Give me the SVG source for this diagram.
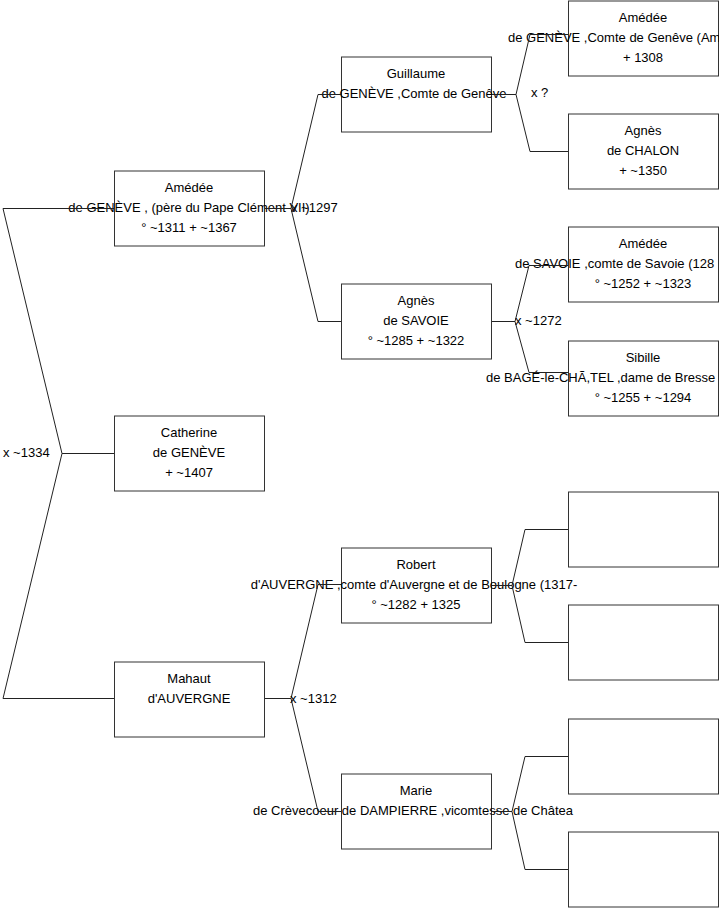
<svg xmlns="http://www.w3.org/2000/svg" width="719" height="908" viewBox="0 0 719 908">
<style>
rect.b{fill:#fff;stroke:#333;stroke-width:1}
text{font-family:"Liberation Sans",Arial,sans-serif;font-size:13px;fill:#000}
text.c{text-anchor:middle}
.con path{fill:none;stroke:#222;stroke-width:1}
</style>
<rect x="0" y="0" width="719" height="908" fill="#fff"/>
<g id="nodes">
<g id="n-amedee-geneve"><rect class="b" x="114.5" y="171" width="150" height="75"/><text class="c" x="189" y="192">Amédée</text><text class="c" x="189" y="212">de GENÈVE , (père du Pape Clément VII)</text><text class="c" x="189" y="232">° ~1311 + ~1367</text></g>
<g id="n-catherine"><rect class="b" x="114.5" y="416" width="150" height="75"/><text class="c" x="189" y="437">Catherine</text><text class="c" x="189" y="457">de GENÈVE</text><text class="c" x="189" y="477"> + ~1407</text></g>
<g id="n-mahaut"><rect class="b" x="114.5" y="662" width="150" height="75"/><text class="c" x="189" y="683">Mahaut</text><text class="c" x="189" y="703">d'AUVERGNE</text></g>
<g id="n-guillaume"><rect class="b" x="341.5" y="57" width="150" height="75"/><text class="c" x="416" y="78">Guillaume</text><text class="c" x="414" y="98">de GENÈVE ,Comte de Genêve</text></g>
<g id="n-agnes-savoie"><rect class="b" x="341.5" y="284" width="150" height="75"/><text class="c" x="416" y="305">Agnès</text><text class="c" x="416" y="325">de SAVOIE</text><text class="c" x="416" y="345">° ~1285 + ~1322</text></g>
<g id="n-robert"><rect class="b" x="341.5" y="548" width="150" height="75"/><text class="c" x="416" y="569">Robert</text><text class="c" x="414" y="589">d'AUVERGNE ,comte d'Auvergne et de Boulogne (1317-</text><text class="c" x="416" y="609">° ~1282 + 1325</text></g>
<g id="n-marie"><rect class="b" x="341.5" y="774" width="150" height="75"/><text class="c" x="416" y="795">Marie</text><text class="c" x="413" y="815">de Crèvecoeur de DAMPIERRE ,vicomtesse de Châtea</text></g>
<g id="n-amedee-ii"><rect class="b" x="568.5" y="1" width="150" height="75"/><text class="c" x="643" y="22">Amédée</text><text x="508" y="42">de GENÈVE ,Comte de Genêve (Am</text><text class="c" x="643" y="62">+ 1308</text></g>
<g id="n-agnes-chalon"><rect class="b" x="568.5" y="114" width="150" height="75"/><text class="c" x="643" y="135">Agnès</text><text class="c" x="643" y="155">de CHALON</text><text class="c" x="643" y="175">+ ~1350</text></g>
<g id="n-amedee-savoie"><rect class="b" x="568.5" y="227" width="150" height="75"/><text class="c" x="643" y="248">Amédée</text><text x="515" y="268">de SAVOIE ,comte de Savoie (128</text><text class="c" x="643" y="288">° ~1252 + ~1323</text></g>
<g id="n-sibille"><rect class="b" x="568.5" y="341" width="150" height="75"/><text class="c" x="643" y="362">Sibille</text><text x="486" y="382">de BAGÉ-le-CHÃ,TEL ,dame de Bresse</text><text class="c" x="643" y="402">° ~1255 + ~1294</text></g>
<g id="n-empty1"><rect class="b" x="568.5" y="492" width="150" height="75"/></g>
<g id="n-empty2"><rect class="b" x="568.5" y="605" width="150" height="75"/></g>
<g id="n-empty3"><rect class="b" x="568.5" y="719" width="150" height="75"/></g>
<g id="n-empty4"><rect class="b" x="568.5" y="832" width="150" height="75"/></g>
</g>
<g id="connectors" class="con">
<path d="M3,208.5 H114 M3,208.5 L62,453.5 L3,698.5 H114 M62,453.5 H114"/>
<path d="M265,208.5 H291 M291,208.5 L318,94.5 H341 M291,208.5 L318,321.5 H341"/>
<path d="M492,94.5 H516 M516,94.5 L530,34.5 H568 M516,94.5 L530,151.5 H568"/>
<path d="M492,321.5 H515 M515,321.5 L529,265.5 H568 M515,321.5 L529,372.5 H568"/>
<path d="M265,698.5 H291 M291,698.5 L318,584.5 H341 M291,698.5 L318,811.5 H341"/>
<path d="M492,585.5 H512 M512,585.5 L525,529.5 H568 M512,585.5 L525,642.5 H568"/>
<path d="M492,811.5 H512 M512,811.5 L525,756.5 H568 M512,811.5 L525,869.5 H568"/>
</g>
<g id="labels">
<text x="291" y="212">x ~1297</text>
<text x="531" y="97">x ?</text>
<text x="515" y="325">x ~1272</text>
<text x="290" y="703">x ~1312</text>
<text x="3" y="457">x ~1334</text>
</g>
</svg>
